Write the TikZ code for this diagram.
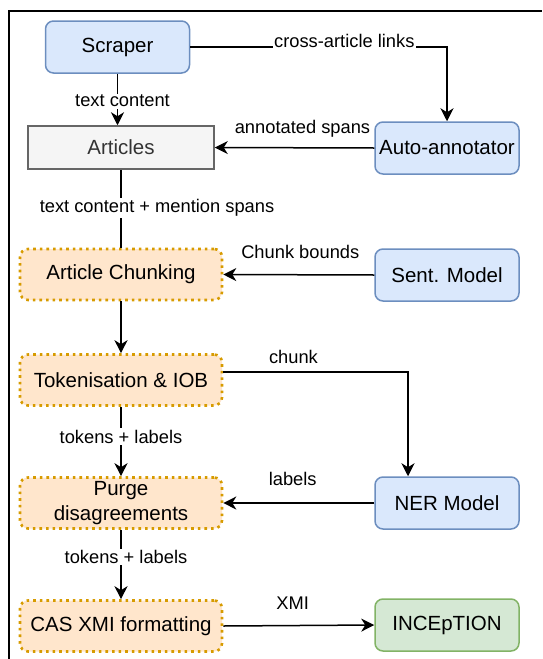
\documentclass[tikz,border=0pt]{standalone}
\usepackage{fontspec}
\setmainfont{Liberation Sans}
\usetikzlibrary{arrows.meta}
\definecolor{bluefill}{HTML}{DAE8FC}
\definecolor{blueline}{HTML}{6C8EBF}
\definecolor{grayfill}{HTML}{F5F5F5}
\definecolor{grayline}{HTML}{666666}
\definecolor{graytext}{HTML}{333333}
\definecolor{orangefill}{HTML}{FFE6CC}
\definecolor{orangeline}{HTML}{D79B00}
\definecolor{greenfill}{HTML}{D5E8D4}
\definecolor{greenline}{HTML}{82B366}
\begin{document}
\begin{tikzpicture}[x=1pt,y=-1pt,
  box/.style={rounded corners=8pt, line width=1.5pt, minimum width=144pt, minimum height=52pt,
    inner sep=0pt, align=center, font=\fontsize{20.5}{25}\selectfont},
  bluebox/.style={box, fill=bluefill, draw=blueline},
  greenbox/.style={box, fill=greenfill, draw=greenline},
  graybox/.style={box, rounded corners=0pt, fill=grayfill, draw=grayline, text=graytext,
    minimum width=186pt, minimum height=43pt},
  orangebox/.style={box, fill=orangefill, draw=orangeline, line width=2.6pt,
    dash pattern=on 2.6pt off 4pt, minimum width=202pt, minimum height=51pt},
  lbl/.style={fill=white, inner sep=1.5pt, font=\fontsize{18.3}{22}\selectfont},
  conn/.style={line width=1.5pt, draw=black},
  arr/.style={conn, -{Stealth[length=13pt,width=13pt,inset=4pt]}}
]
\useasboundingbox (0,0) rectangle (542,659);
\draw[line width=1.5pt] (9,659) -- (9,11) -- (542,11);

\node[bluebox] (scraper) at (117.5,47) {Scraper};
\node[graybox] (articles) at (121,147.5) {Articles};
\node[bluebox] (auto) at (447,148) {Auto-annotator};
\node[orangebox] (chunk) at (121,274.5) {Article Chunking};
\node[bluebox] (sent) at (447,275) {Sent. Model};
\node[orangebox] (tok) at (121,380) {Tokenisation \& IOB};
\node[orangebox] (purge) at (121,503) {Purge\\disagreements};
\node[bluebox] (ner) at (447,503) {NER Model};
\node[orangebox] (cas) at (121,626) {CAS XMI formatting};
\node[greenbox] (incep) at (447,625) {INCEpTION};

\draw[arr] (scraper.south) -- node[lbl, pos=0.53, xshift=5pt] {text content} (scraper.south |- articles.north);
\draw[arr] (scraper.east) -| node[lbl, pos=0.3, yshift=6pt] {cross-article links} (auto.north);
\draw[arr] (auto.west) -- node[lbl, pos=0.45, yshift=19pt] {annotated spans} (articles.east);
\draw[conn] (articles.south) -- node[lbl, pos=0.49, xshift=36pt] {text content + mention spans} (chunk.north);
\draw[arr] (sent.west) -- node[lbl, pos=0.49, yshift=23pt] {Chunk bounds} (chunk.east);
\draw[arr] (chunk.south) -- (tok.north);
\draw[arr] ([yshift=8pt]tok.east) -| node[lbl, pos=0.19, yshift=15pt] {chunk} ([xshift=-39pt]ner.north);
\draw[arr] (tok.south) -- node[lbl, pos=0.43] {tokens + labels} (purge.north);
\draw[arr] (ner.west) -- node[lbl, pos=0.54, yshift=24pt] {labels} (purge.east);
\draw[arr] (purge.south) -- node[lbl, pos=0.39, xshift=5pt] {tokens + labels} (cas.north);
\draw[arr] (cas.east) -- node[lbl, pos=0.46, yshift=22pt] {XMI} (incep.west);
\end{tikzpicture}
\end{document}
